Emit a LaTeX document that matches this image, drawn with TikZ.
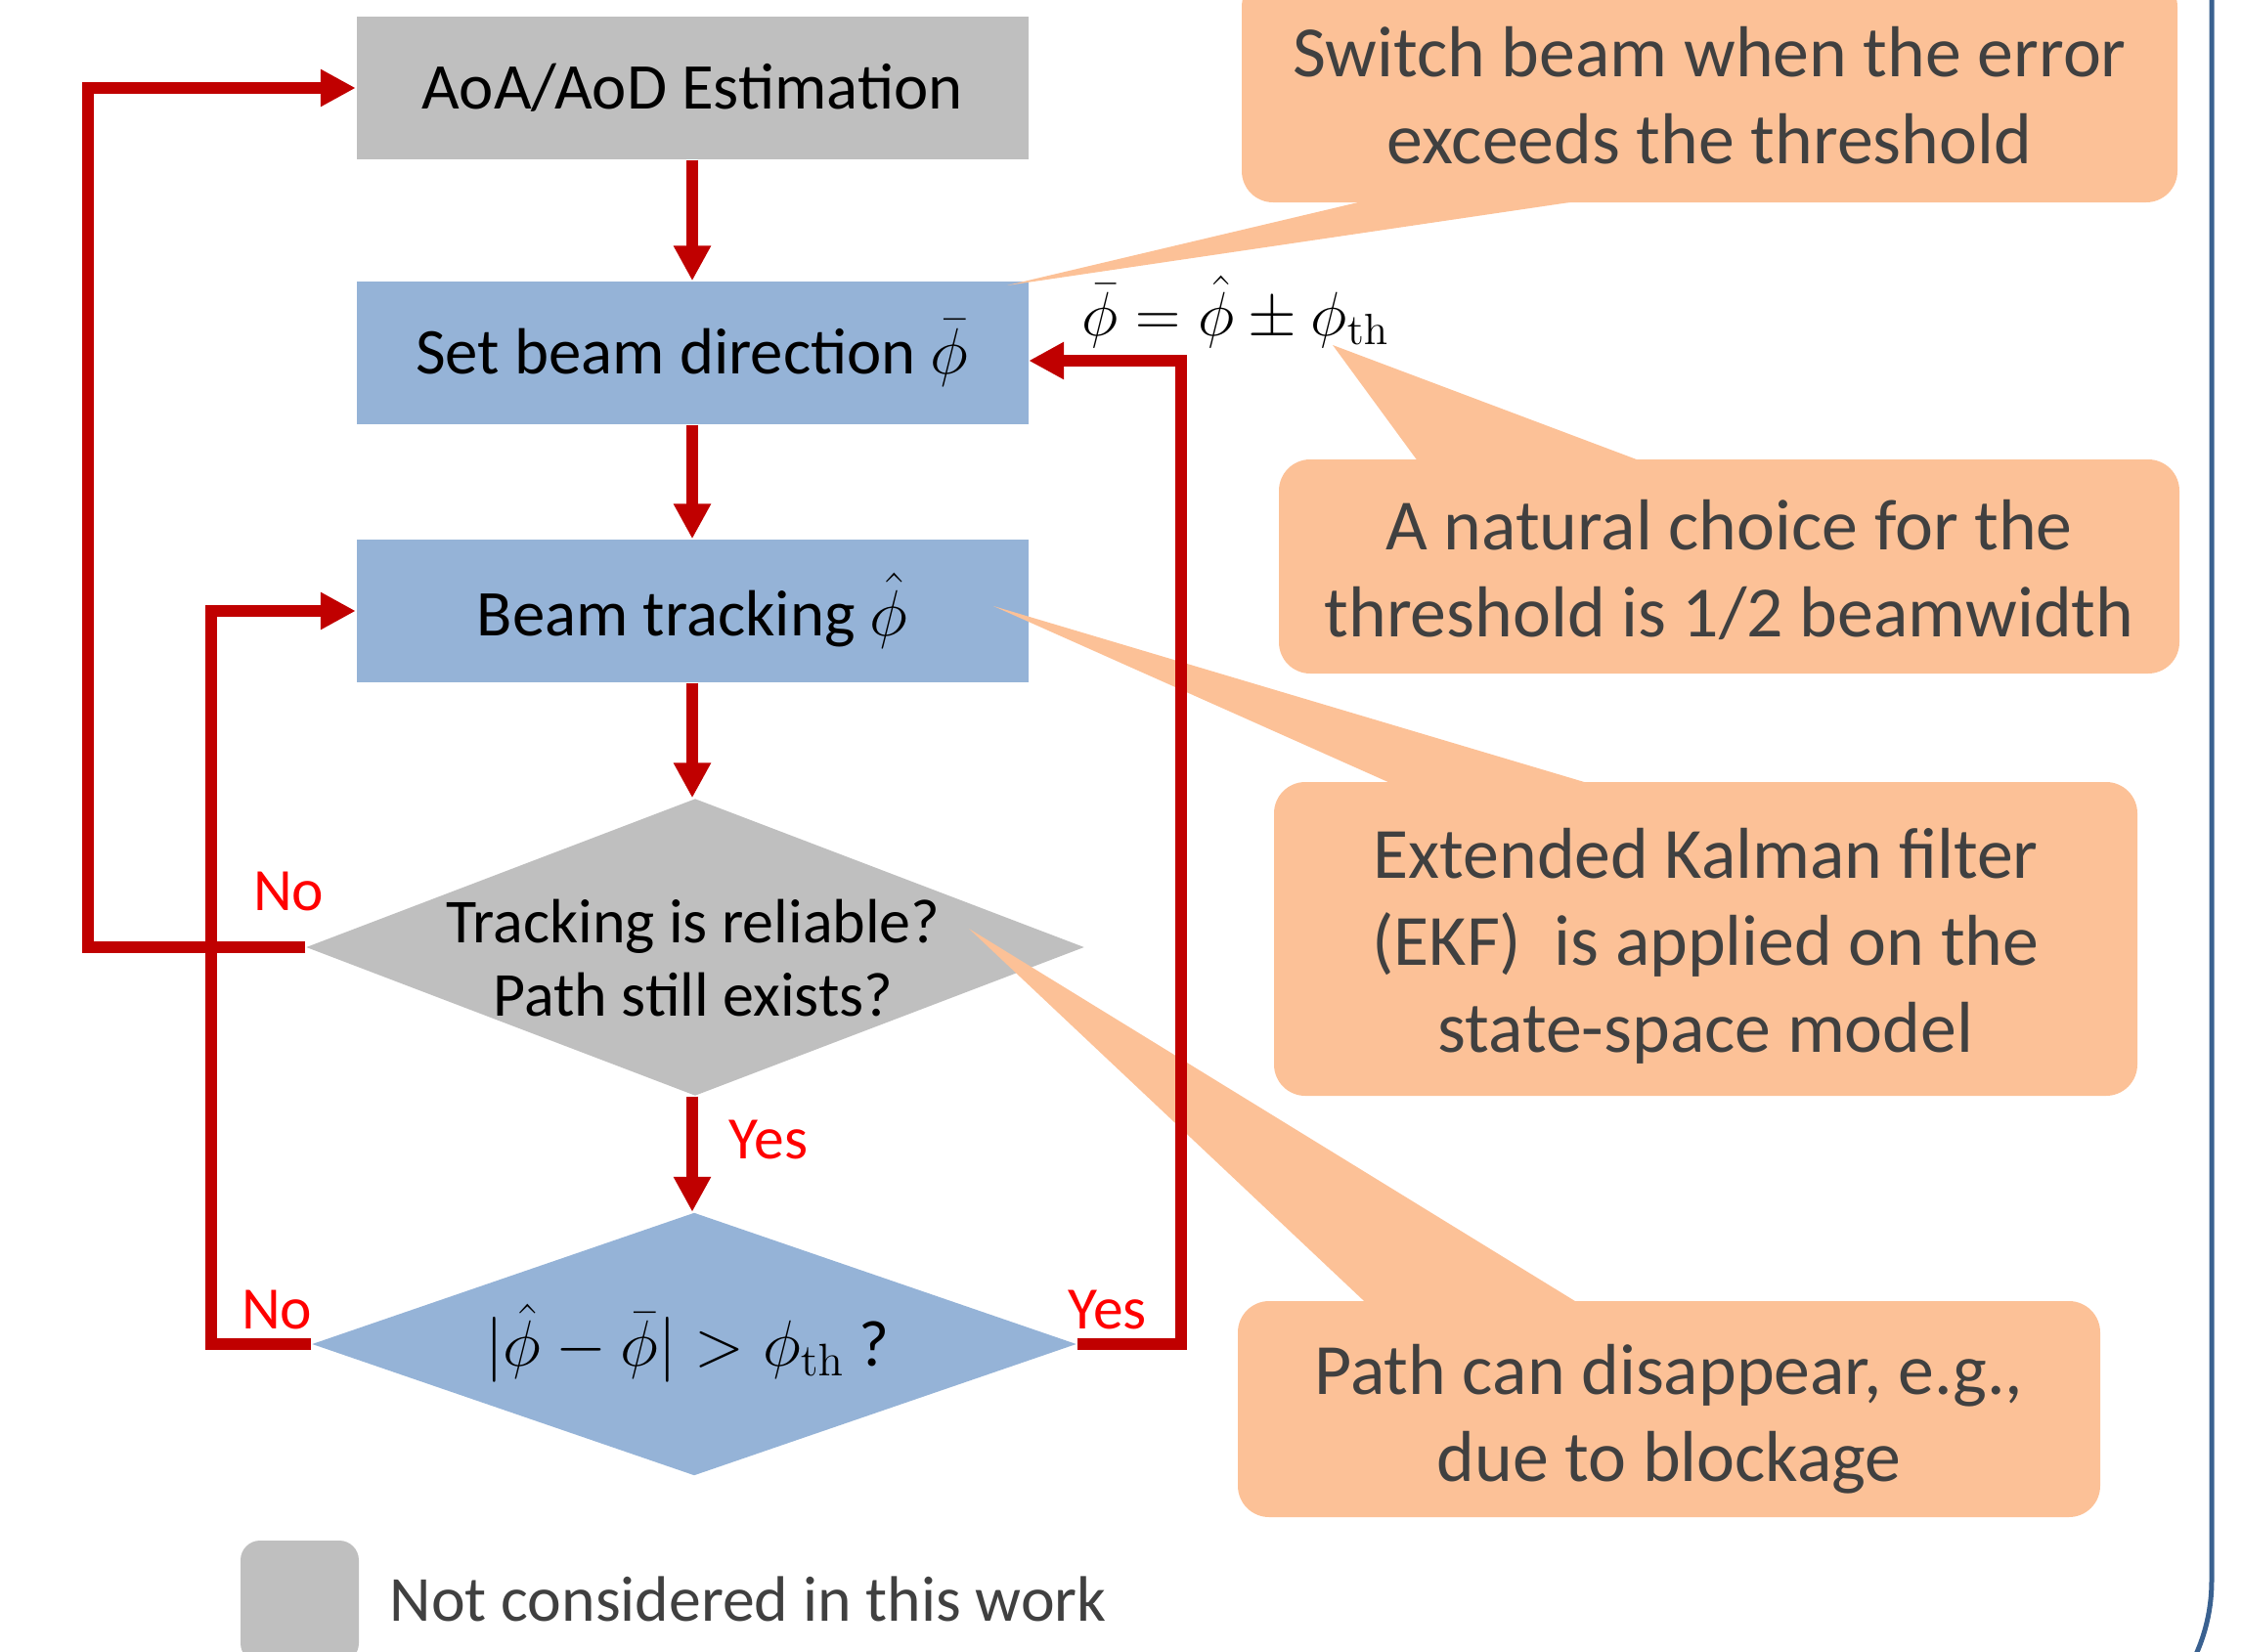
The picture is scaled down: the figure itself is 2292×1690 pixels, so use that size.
\RequirePackage{fix-cm}
\documentclass[tikz,border=0pt]{standalone}
\usepackage{amsmath}
\usepackage[no-math]{fontspec}
\setmainfont{Carlito}
\usepackage{tikz}
\usetikzlibrary{arrows.meta,positioning,calc,shapes.geometric}

\definecolor{boxgray}{HTML}{BFBFBF}
\definecolor{boxblue}{HTML}{95B3D7}
\definecolor{notepeach}{HTML}{FCC197}
\definecolor{flowred}{HTML}{C00000}
\definecolor{lblred}{HTML}{FF0000}
\definecolor{notetext}{HTML}{404040}
\definecolor{frameblue}{HTML}{3A6190}

\begin{document}
\begin{tikzpicture}[x=0.1mm,y=-0.1mm,
  blk/.style={rectangle,inner sep=0pt,minimum width=68.7mm,minimum height=14.6mm,
    font=\fontsize{19}{23}\selectfont},
  decide/.style={diamond,inner sep=0pt},
  flow/.style={draw=flowred,line width=1.2mm,-{Triangle[length=3.6mm,width=3.6mm]}},
  lbl/.style={text=lblred,inner sep=0pt,font=\fontsize{17.5}{21}\selectfont},
  remark/.style={fill=notepeach,rounded corners=3.2mm,inner sep=0pt},
  remtxt/.style={align=center,inner sep=0pt,text=notetext,font=\fontsize{21}{25.3}\selectfont},
  notetail/.style={fill=notepeach}]
  \useasboundingbox (0,0) rectangle (2292,1690);

  % flow chart
  \node[blk,fill=boxgray] (est) at (708,90) {AoA/AoD Estimation};
  \node[blk,fill=boxblue] (setb) at (708,361) {Set beam direction $\bar{\phi}$};
  \node[blk,fill=boxblue] (trk) at (708,625) {Beam tracking $\hat{\phi}$};
  \node[decide,fill=boxgray,minimum width=79.6mm,minimum height=30.4mm] (rel) at (711,969) {};
  \node[align=center,font=\fontsize{18.2}{21.6}\selectfont,yshift=-1.1mm] (reltxt) at (709,969)
    {Tracking is reliable?\\Path still exists?};
  \node[decide,fill=boxblue,minimum width=78.2mm,minimum height=26.9mm] (dev) at (710,1375) {};
  \node[font=\fontsize{19}{23}\selectfont] (devtxt) at (703,1374)
    {$|\hat{\phi}-\bar{\phi}|>\phi_{\mathrm{th}}$ ?};
  \node[anchor=base,inner sep=0pt,font=\fontsize{18.2}{22}\selectfont] (thr) at (1264,343)
    {$\bar{\phi}=\hat{\phi}\pm\phi_{\mathrm{th}}$};

  % notes
  \node[remark,minimum width=95.7mm,minimum height=23.2mm] (c1) at (1748.5,91) {};
  \node[remark,minimum width=92.1mm,minimum height=21.9mm] (c2) at (1768.5,579.5) {};
  \node[remark,minimum width=88.3mm,minimum height=32.1mm] (c3) at (1744.5,960.5) {};
  \node[remark,minimum width=88.2mm,minimum height=22.1mm] (c4) at (1707,1441.5) {};
  \node[remtxt] (c1txt) at ([yshift=-0.7mm]c1) {Switch beam when the error\\exceeds the threshold};
  \node[remtxt] (c2txt) at ([yshift=-0.3mm]c2) {A natural choice for the\\threshold is 1/2 beamwidth};
  \node[remtxt] (c3txt) at ([yshift=-0.7mm]c3) {Extended Kalman filter\\(EKF)~ is applied on the\\state-space model};
  \node[remtxt] (c4txt) at ([yshift=-1mm]c4) {Path can disappear, e.g.,\\due to blockage};
  \coordinate (tp1) at (1030,292);
  \coordinate (tp2) at (1363,353);
  \coordinate (tp3) at (1016,620);
  \coordinate (tp4) at (991,950);
  \fill[notetail] ([xshift=-32mm,yshift=1mm]c1.south) -- (tp1) -- ([xshift=-8mm,yshift=1mm]c1.south) -- cycle;
  \fill[notetail] ([xshift=-31.3mm,yshift=-1mm]c2.north) -- (tp2) -- ([xshift=-7mm,yshift=-1mm]c2.north) -- cycle;
  \fill[notetail] ([xshift=-30.4mm,yshift=-1mm]c3.north) -- (tp3) -- ([xshift=-9.3mm,yshift=-1mm]c3.north) -- cycle;
  \fill[notetail] ([xshift=-30.2mm,yshift=-1mm]c4.north) -- (tp4) -- ([xshift=-8.1mm,yshift=-1mm]c4.north) -- cycle;

  % connectors
  \draw[flow] (est) -- (setb);
  \draw[flow] (setb) -- (trk);
  \draw[flow] (trk) -- (trk.south |- rel.north);
  \draw[flow] (rel.south -| trk.south) -- (trk.south |- dev.north);
  \draw[flow] (rel.west) -- ++(-222,0) |- (est.west);
  \draw[flow] (dev.west) -- ++(-102,0) |- (trk.west);
  \draw[flow] (dev.east) -- ++(106,0) |- ([yshift=-0.8mm]setb.east);
  \node[lbl] (no1) at ([xshift=-1.7mm,yshift=5.7mm]rel.west) {No};
  \node[lbl] (yes1) at ([xshift=7.5mm,yshift=-4.4mm]rel.south) {Yes};
  \node[lbl] (no2) at ([xshift=-3.5mm,yshift=3.5mm]dev.west) {No};
  \node[lbl] (yes2) at ([xshift=3.1mm,yshift=3.5mm]dev.east) {Yes};

  % legend and frame
  \node[fill=boxgray,rounded corners=2mm,inner sep=0pt,minimum width=12.1mm,minimum height=12.5mm] (leg) at (306.5,1638.5) {};
  \node[anchor=base west,inner sep=0pt,text=notetext,font=\fontsize{18.7}{22}\selectfont] (legtxt) at (398,1658)
    {Not considered in this work};
  \draw[frameblue,line width=0.5mm,rounded corners=18.5mm] (2262,-20) -- (2262,1802) -- (1800,1802);
\end{tikzpicture}
\end{document}
